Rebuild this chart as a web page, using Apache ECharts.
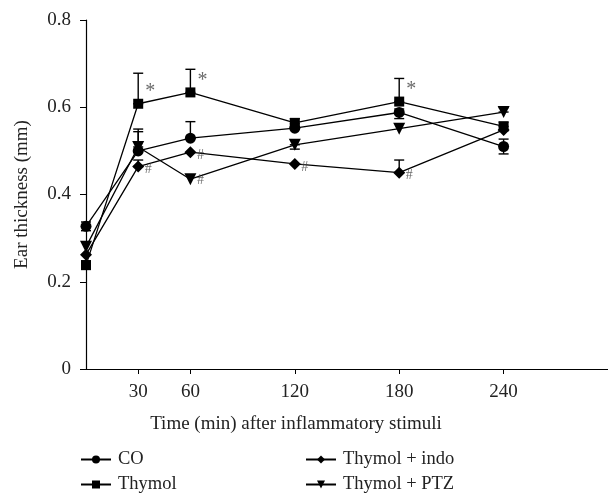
<!DOCTYPE html>
<html><head><meta charset="utf-8">
<script src="https://cdn.jsdelivr.net/npm/echarts@6/dist/echarts.min.js"></script>
<style>html,body{margin:0;padding:0;background:#fff}#c{width:608px;height:501px}</style>
</head><body><div id="c"></div>
<script>
var times = [0, 30, 60, 120, 180, 240];
var xTicks = [30, 60, 120, 180, 240];
var yTicks = [0, 0.2, 0.4, 0.6, 0.8];
var seriesNames = ['CO', 'Thymol', 'Thymol + indo', 'Thymol + PTZ'];
var coVals = [0.327, 0.500, 0.529, 0.552, 0.588, 0.510];
var thymolVals = [0.238, 0.608, 0.634, 0.564, 0.613, 0.556];
var indoVals = [0.262, 0.464, 0.497, 0.470, 0.450, 0.548];
var ptzVals = [0.280, 0.509, 0.435, 0.514, 0.551, 0.589];
var coErrUp = [0.010, 0.050, 0.038, 0.010, 0.008, 0.017];
var coErrDown = [0.010, 0, 0, 0, 0.014, 0.017];
var thymolErrUp = [0.010, 0.070, 0.053, 0.010, 0.053, 0.010];
var thymolErrDown = [0, 0, 0, 0.010, 0, 0];
var indoErrUp = [0, 0.015, 0, 0, 0.029, 0];
var indoErrDown = [0, 0, 0, 0, 0, 0];
var ptzErrUp = [0, 0.035, 0, 0, 0, 0.010];
var ptzErrDown = [0, 0, 0, 0.010, 0, 0];
var starTimes = [30, 60, 180];
var hashIndoTimes = [30, 60, 120, 180];
var hashPtzTimes = [60];

var FONT = 'Liberation Serif';
var symbols = ['circle', 'rect', 'diamond', 'triangle'];
var sizes = [11, 10, 12, 12];
var rotates = [0, 0, 0, 180];
var vals = [coVals, thymolVals, indoVals, ptzVals];
var errUps = [coErrUp, thymolErrUp, indoErrUp, ptzErrUp];
var errDowns = [coErrDown, thymolErrDown, indoErrDown, ptzErrDown];

var series = [];
var errData = [];
for (var s = 0; s < 4; s++) {
  for (var i = 0; i < times.length; i++) {
    if (errUps[s][i] > 0 || errDowns[s][i] > 0)
      errData.push([times[i], vals[s][i] - errDowns[s][i], vals[s][i] + errUps[s][i]]);
  }
}
series.push({
  type: 'custom', z: 1, silent: true,
  renderItem: function (params, api) {
    var x = api.value(0);
    var lo = api.coord([x, api.value(1)]);
    var hi = api.coord([x, api.value(2)]);
    var hw = 5;
    var st = { stroke: '#000', lineWidth: 1.4 };
    return { type: 'group', children: [
      { type: 'line', shape: { x1: lo[0], y1: lo[1], x2: hi[0], y2: hi[1] }, style: st },
      { type: 'line', shape: { x1: hi[0] - hw, y1: hi[1], x2: hi[0] + hw, y2: hi[1] }, style: st },
      { type: 'line', shape: { x1: lo[0] - hw, y1: lo[1], x2: lo[0] + hw, y2: lo[1] }, style: st }
    ]};
  },
  data: errData
});
for (var s2 = 0; s2 < 4; s2++) {
  series.push({
    name: seriesNames[s2], type: 'line', z: 3,
    symbol: symbols[s2], symbolSize: sizes[s2], symbolRotate: rotates[s2],
    lineStyle: { color: '#000', width: 1.3 },
    itemStyle: { color: '#000' },
    data: times.map(function (t, i) { return [t, vals[s2][i]]; })
  });
}
var annData = [];
starTimes.forEach(function (t) { var i = times.indexOf(t); annData.push({ value: [t, thymolVals[i]], txt: '*', off: [12, -12] }); });
hashIndoTimes.forEach(function (t) { var i = times.indexOf(t); annData.push({ value: [t, indoVals[i]], txt: '#', off: [10, 3] }); });
hashPtzTimes.forEach(function (t) { var i = times.indexOf(t); annData.push({ value: [t, ptzVals[i]], txt: '#', off: [10, 1] }); });
series.push({
  type: 'scatter', symbolSize: 0, z: 4, silent: true,
  data: annData.map(function (d) {
    return { value: d.value, label: { show: true, formatter: d.txt, offset: d.off, position: 'inside',
      fontFamily: FONT, fontSize: d.txt === '*' ? 20 : 14, color: '#444' } };
  })
});

var chart = echarts.init(document.getElementById('c'));
chart.setOption({
  animation: false,
  backgroundColor: '#fff',
  grid: { left: 86, right: 0, top: 20, bottom: 132 },
  xAxis: {
    type: 'value', min: 0, max: 300,
    name: 'Time (min) after inflammatory stimuli', nameLocation: 'middle', nameGap: 46,
    nameTextStyle: { fontFamily: FONT, fontSize: 19, color: '#222', padding: [0, 102, 0, 0] },
    axisLine: { lineStyle: { color: '#000', width: 1.2 } },
    axisTick: { show: true, customValues: xTicks, length: 5, lineStyle: { color: '#000' } },
    axisLabel: { customValues: xTicks, fontFamily: FONT, fontSize: 19, color: '#222', margin: 14 },
    splitLine: { show: false }
  },
  yAxis: {
    type: 'value', min: 0, max: 0.8, interval: 0.2,
    name: 'Ear thickness (mm)', nameLocation: 'middle', nameGap: 54, nameRotate: 90,
    nameTextStyle: { fontFamily: FONT, fontSize: 19, color: '#222' },
    axisLine: { show: true, lineStyle: { color: '#000', width: 1.2 } },
    axisTick: { show: true, length: 6, lineStyle: { color: '#000' } },
    axisLabel: { fontFamily: FONT, fontSize: 19, color: '#222', margin: 15,
      formatter: function (v) { return yTicks.indexOf(+v.toFixed(1)) >= 0 ? String(+v.toFixed(1)) : ''; } },
    splitLine: { show: false }
  },
  legend: [
    { data: [seriesNames[0], seriesNames[1]], orient: 'vertical', left: 75, top: 445, itemGap: 6,
      itemWidth: 30, itemHeight: 10, textStyle: { fontFamily: FONT, fontSize: 18.5, color: '#222', padding: [0, 0, 0, 2] } },
    { data: [seriesNames[2], seriesNames[3]], orient: 'vertical', left: 300, top: 445, itemGap: 6,
      itemWidth: 30, itemHeight: 10, textStyle: { fontFamily: FONT, fontSize: 18.5, color: '#222', padding: [0, 0, 0, 2] } }
  ],
  series: series
});
</script></body></html>
